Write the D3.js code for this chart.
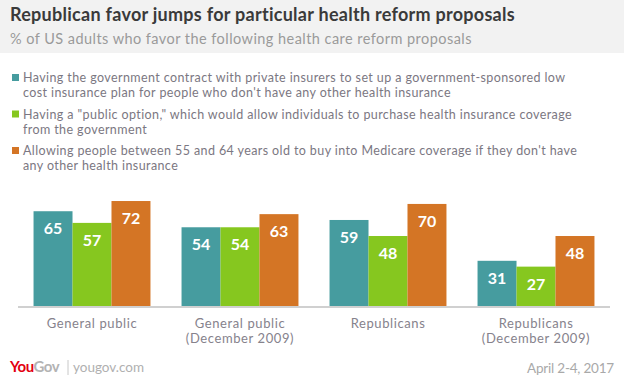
<!DOCTYPE html>
<html>
<head>
<meta charset="utf-8">
<script src="https://cdn.jsdelivr.net/npm/d3@7"></script>
<style>
  body { margin: 0; background: #fff; }
  svg { display: block; font-family: Lato, "Open Sans", sans-serif; }
</style>
</head>
<body>
<svg id="chart" width="624" height="385"></svg>
<script>
// groups along the x axis (two-line labels)
const categories = [
  ["General public"],
  ["General public", "(December 2009)"],
  ["Republicans"],
  ["Republicans", "(December 2009)"]
];

const seriesNames = ["lowcost", "public", "medicare"];
const seriesColors = ["#469c9f", "#86c71f", "#d47525"];

// legend text, already wrapped as in the picture
const legendLines = [
  ["Having the government contract with private insurers to set up a government-sponsored low",
   "cost insurance plan for people who don't have any other health insurance"],
  ["Having a \"public option,\" which would allow individuals to purchase health insurance coverage",
   "from the government"],
  ["Allowing people between 55 and 64 years old to buy into Medicare coverage if they don't have",
   "any other health insurance"]
];

// % favour, per series, one value per category
const lowcost = [65, 54, 59, 31];
const publicOption = [57, 54, 48, 27];
const medicare = [72, 63, 70, 48];
const values = [lowcost, publicOption, medicare];

const svg = d3.select("#chart");
const width = +svg.attr("width");

// header band
svg.append("rect")
  .attr("x", 0).attr("y", 0)
  .attr("width", width).attr("height", 53)
  .attr("fill", "#f2f2f2");

svg.append("text")
  .attr("x", 10).attr("y", 21)
  .attr("font-size", 18)
  .attr("font-weight", "bold")
  .attr("letter-spacing", 0.27)
  .attr("fill", "#3a3a3a")
  .text("Republican favor jumps for particular health reform proposals");

svg.append("text")
  .attr("x", 10).attr("y", 44)
  .attr("font-size", 14.5)
  .attr("letter-spacing", 0.45)
  .attr("fill", "#9a9a9a")
  .text("% of US adults who favor the following health care reform proposals");

// legend
const legend = svg.append("g");
legendLines.forEach((lines, i) => {
  const y0 = 82 + i * 36.5;
  legend.append("rect")
    .attr("x", 12).attr("y", y0 - 8)
    .attr("width", 7).attr("height", 7)
    .attr("fill", seriesColors[i]);
  lines.forEach((t, j) => {
    legend.append("text")
      .attr("x", 23).attr("y", y0 + j * 15)
      .attr("font-size", 12.5)
      .attr("letter-spacing", 0.4)
      .attr("fill", "#7b7782")
      .text(t);
  });
});

// scales
const x0 = d3.scaleBand()
  .domain(d3.range(categories.length))
  .range([18, 610])
  .paddingInner(0.21)
  .paddingOuter(0.105);

const x1 = d3.scaleBand()
  .domain(d3.range(seriesNames.length))
  .range([0, x0.bandwidth()]);

const y = d3.scaleLinear()
  .domain([0, 100])
  .range([306, 160.2]);

const bars = svg.append("g");
categories.forEach((c, ci) => {
  const g = bars.append("g").attr("transform", `translate(${x0(ci)},0)`);
  values.forEach((vals, si) => {
    const v = vals[ci];
    g.append("rect")
      .attr("x", x1(si))
      .attr("y", y(v))
      .attr("width", x1.bandwidth())
      .attr("height", y(0) - y(v))
      .attr("fill", seriesColors[si]);
    g.append("text")
      .attr("x", x1(si) + x1.bandwidth() / 2)
      .attr("y", y(v) + 23)
      .attr("text-anchor", "middle")
      .attr("font-size", 16)
      .attr("font-weight", "bold")
      .attr("fill", "#fff")
      .text(v);
  });
  c.forEach((t, li) => {
    svg.append("text")
      .attr("x", x0(ci) + x0.bandwidth() / 2)
      .attr("y", 328 + li * 14.5)
      .attr("text-anchor", "middle")
      .attr("font-size", 13)
      .attr("letter-spacing", 0.6)
      .attr("fill", "#86828c")
      .text(t);
  });
});

// baseline
svg.append("line")
  .attr("x1", 18).attr("x2", 610)
  .attr("y1", 307).attr("y2", 307)
  .attr("stroke", "#d0d0d0")
  .attr("stroke-width", 2);

// footer
const logo = svg.append("text")
  .attr("x", 10).attr("y", 372)
  .attr("font-size", 15)
  .attr("font-weight", "bold")
  .attr("letter-spacing", -0.5);
logo.append("tspan").attr("fill", "#e3000f").text("You");
logo.append("tspan").attr("fill", "#b3b3b3").text("Gov");

svg.append("line")
  .attr("x1", 68).attr("x2", 68)
  .attr("y1", 360).attr("y2", 375)
  .attr("stroke", "#c8c8c8")
  .attr("stroke-width", 1);

svg.append("text")
  .attr("x", 73).attr("y", 372)
  .attr("font-size", 13.5)
  .attr("fill", "#b0b0b0")
  .text("yougov.com");

svg.append("text")
  .attr("x", 614).attr("y", 373)
  .attr("text-anchor", "end")
  .attr("font-size", 13.5)
  .attr("letter-spacing", -0.2)
  .attr("fill", "#a9a9a9")
  .text("April 2-4, 2017");
</script>
</body>
</html>
